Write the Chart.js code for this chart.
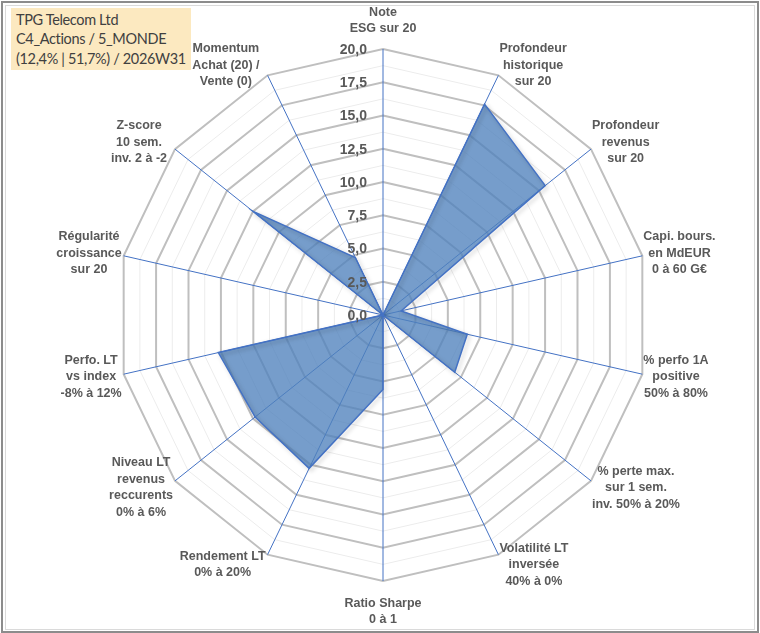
<!DOCTYPE html>
<html>
<head>
<meta charset="utf-8">
<script src="https://cdn.jsdelivr.net/npm/chart.js@4.4.1/dist/chart.umd.min.js"></script>
<style>
    html, body { margin: 0; padding: 0; background: #fff; }
    #wrap { position: relative; width: 760px; height: 633px; overflow: hidden; }
    #myRadar { position: absolute; left: 0; top: 0; }
    #frame {
        position: absolute; left: 1px; top: 1px; width: 754px; height: 628px;
        border: 2px solid #8c8c8c; pointer-events: none;
    }
    #frameInner {
        position: absolute; left: 2px; top: 2px; right: 2px; bottom: 1px;
        border: 1px solid #dadada;
    }
    #titleBox {
        position: absolute; left: 11px; top: 8px; width: 175px; height: 58px;
        padding: 2px 0 2px 5px; background: #fce9c0;
        font-family: Lato, "Open Sans", sans-serif; font-size: 14.5px;
        letter-spacing: -0.35px; line-height: 19.3px; color: #404040; white-space: nowrap;
    }
</style>
</head>
<body>
<div id="wrap">
    <canvas id="myRadar" width="760" height="633"></canvas>
    <div id="titleBox">TPG Telecom Ltd<br>C4_Actions / 5_MONDE<br>(12,4% | 51,7%) / 2026W31</div>
    <div id="frame"><div id="frameInner"></div></div>
</div>
<script>
// Axis labels (one entry per spoke, split into lines)
const categories = [
    ["Note", "ESG sur 20"],
    ["Profondeur", "historique", "sur 20"],
    ["Profondeur", "revenus", "sur 20"],
    ["Capi. bours.", "en MdEUR", "0 à 60 G€"],
    ["% perfo 1A", "positive", "50% à 80%"],
    ["% perte max.", "sur 1 sem.", "inv. 50% à 20%"],
    ["Volatilité LT", "inversée", "40% à 0%"],
    ["Ratio Sharpe", "0 à 1"],
    ["Rendement LT", "0% à 20%"],
    ["Niveau LT", "revenus", "reccurents", "0% à 6%"],
    ["Perfo. LT", "vs index", "-8% à 12%"],
    ["Régularité", "croissance", "sur 20"],
    ["Z-score", "10 sem.", "inv. 2 à -2"],
    ["Momentum", "Achat (20) /", "Vente (0)"],
];

// Scores
const scores = [0, 17.6, 15.6, 1.4, 6.5, 6.9, 0, 5.6, 12.8, 12.3, 12.7, 0, 12.5, 4.8];

// Radial tick labels
const tickValues = [0, 2.5, 5, 7.5, 10, 12.5, 15, 17.5, 20];

const labelFont = "bold 12.5px 'Liberation Sans', Arial, sans-serif";
const labelColor = "#595959";

// Draws the radial values and the spoke labels the way Excel places them
const excelLabels = {
    id: "excelLabels",
    afterDatasetsDraw(chart) {
        const scale = chart.scales.r;
        const ctx = chart.ctx;
        ctx.save();

        // tick values, right-aligned against the vertical spoke
        ctx.font = "bold 14px 'Liberation Sans', Arial, sans-serif";
        ctx.fillStyle = labelColor;
        ctx.textAlign = "right";
        ctx.textBaseline = "middle";
        tickValues.forEach((v) => {
            const p = scale.getPointPositionForValue(0, v);
            ctx.fillText(v.toFixed(1).replace(".", ","), p.x - 16, p.y + 1);
        });

        // spoke labels
        ctx.font = labelFont;
        ctx.textAlign = "center";
        const lineH = 16.5;
        categories.forEach((lines, i) => {
            const angle = scale.getIndexAngle(i);
            const tip = scale.getPointPosition(i, scale.drawingArea);
            const sin = Math.sin(angle);
            const cos = Math.cos(angle);
            const blockH = lines.length * lineH;
            const maxW = Math.max(...lines.map((l) => ctx.measureText(l).width));
            let cx, top;
            if (Math.abs(sin) < 0.01) {
                cx = tip.x;
                top = cos > 0 ? tip.y - 12 - blockH : tip.y + 14;
            } else if (sin > 0) {
                cx = tip.x + 1 + maxW / 2;
                top = tip.y - 11 * cos - blockH / 2;
            } else {
                // upper-left labels sit a little further from the spoke
                const gap = cos > 0.5 ? 8 : 2;
                cx = tip.x - gap - maxW / 2;
                top = tip.y - 11 * cos - blockH / 2;
            }
            lines.forEach((l, k) => {
                ctx.fillText(l, cx, top + lineH * (k + 0.5));
            });
        });
        ctx.restore();
    },
};

// Soft shadow under the filled area
const areaShadow = {
    id: "areaShadow",
    beforeDatasetDraw(chart) {
        const ctx = chart.ctx;
        ctx.save();
        ctx.shadowColor = "rgba(0, 0, 0, 0.25)";
        ctx.shadowBlur = 4;
        ctx.shadowOffsetX = 2;
        ctx.shadowOffsetY = 2;
    },
    afterDatasetDraw(chart) {
        chart.ctx.restore();
    },
};

const isMajor = (v) => Math.abs(v / 2.5 - Math.round(v / 2.5)) < 1e-6;

new Chart(document.getElementById("myRadar"), {
    type: "radar",
    data: {
        labels: categories,
        datasets: [
            {
                label: "Score",
                data: scores,
                fill: true,
                backgroundColor: "rgba(79, 129, 189, 0.78)",
                borderColor: "#4472c4",
                borderWidth: 1.5,
                pointRadius: 0,
                pointHoverRadius: 0,
            },
        ],
    },
    options: {
        responsive: false,
        animation: false,
        layout: {
            padding: { top: 49, bottom: 52, left: 83, right: 77 },
        },
        plugins: {
            legend: { display: false },
            tooltip: { enabled: false },
        },
        scales: {
            r: {
                min: 0,
                max: 20,
                ticks: {
                    stepSize: 1.25,
                    display: false,
                },
                grid: {
                    circular: false,
                    color: (c) => (isMajor(c.tick.value) ? "#bfbfbf" : "#ececec"),
                    lineWidth: (c) => (isMajor(c.tick.value) ? 2 : 1),
                },
                angleLines: {
                    color: "#4472c4",
                    lineWidth: 1,
                },
                pointLabels: { display: false },
            },
        },
    },
    plugins: [areaShadow, excelLabels],
});
</script>
</body>
</html>
